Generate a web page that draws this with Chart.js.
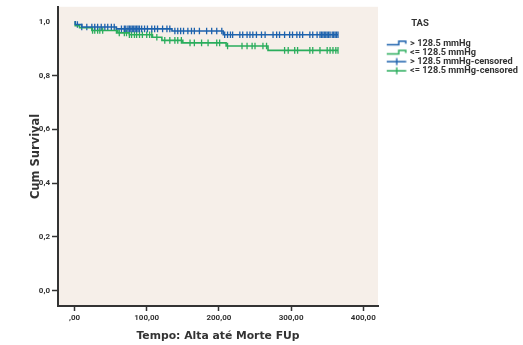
<!DOCTYPE html>
<html lang="pt">
<head>
<meta charset="UTF-8">
<title>Cum Survival - TAS</title>
<style>
  html, body { margin: 0; padding: 0; background: #fff; }
  #wrap { width: 523px; height: 345px; }
</style>
</head>
<body>
<div id="wrap"><canvas id="kmChart"></canvas></div>
<script src="https://cdn.jsdelivr.net/npm/chart.js"></script>
<script>
// series labels and colours
const seriesNames = ['> 128.5 mmHg', '<= 128.5 mmHg', '> 128.5 mmHg-censored', '<= 128.5 mmHg-censored'];
const blue = '#1d62ad';
const green = '#2aad5c';

// Kaplan-Meier steps (time in days, cumulative survival)
const highTimes = [0, 1, 10, 58, 135, 206, 365];
const highSurv = [1.0, 0.99, 0.981, 0.974, 0.966, 0.952, 0.952];
const lowTimes = [0, 1, 7, 24, 60, 76, 108, 121, 150, 210, 268, 365];
const lowSurv = [1.0, 0.986, 0.978, 0.968, 0.959, 0.952, 0.943, 0.931, 0.922, 0.910, 0.894, 0.894];

// censored observations
const highCensor = [4, 10, 17, 24, 28, 32, 37, 42, 46, 51, 55, 65, 69, 71, 74, 76, 78, 80, 82, 84, 86, 88, 90, 93,
  97, 101, 107, 111, 115, 122, 128, 132, 139, 143, 147, 151, 157, 162, 166, 173, 183, 190, 197, 204, 208, 212,
  216, 219, 229, 233, 239, 243, 247, 252, 259, 264, 275, 280, 284, 291, 298, 302, 308, 312, 316, 326, 330, 336,
  340, 342, 344, 346, 348, 350, 352, 354, 357, 359, 361, 363, 365];
const lowCensor = [25, 28, 32, 35, 39, 58, 62, 69, 72, 76, 79, 83, 86, 90, 94, 100, 104, 107, 114, 125, 132, 139,
  143, 148, 160, 166, 176, 185, 197, 201, 212, 232, 239, 246, 250, 261, 266, 291, 296, 305, 309, 326, 330, 340,
  350, 354, 358, 362, 365];

// axes
const xTicks = [0, 100, 200, 300, 400];
const xTickLabels = [',00', '100,00', '200,00', '300,00', '400,00'];
const yTicks = [0, 0.2, 0.4, 0.6, 0.8, 1.0];
const yTickLabels = ['0,0', '0,2', '0,4', '0,6', '0,8', '1,0'];

const tickFont = 'Roboto, sans-serif';
const titleFont = '"DejaVu Sans", sans-serif';
const ink = '#333333';

function survAt(times, surv, t) {
  let s = surv[0];
  for (let i = 0; i < times.length; i++) {
    if (times[i] <= t) s = surv[i];
  }
  return s;
}

function stepIcon(color) {
  const c = document.createElement('canvas');
  c.width = 40; c.height = 12;
  const g = c.getContext('2d');
  g.strokeStyle = color;
  g.lineWidth = 1.5;
  g.beginPath();
  g.moveTo(15, 7.5);
  g.lineTo(27, 7.5);
  g.lineTo(27, 4);
  g.lineTo(34, 4);
  g.lineTo(34, 6.5);
  g.stroke();
  return c;
}

function censorIcon(color) {
  const c = document.createElement('canvas');
  c.width = 40; c.height = 12;
  const g = c.getContext('2d');
  g.strokeStyle = color;
  g.lineWidth = 1.4;
  g.beginPath();
  g.moveTo(15, 6);
  g.lineTo(34.5, 6);
  g.moveTo(25, 2.5);
  g.lineTo(25, 9.5);
  g.stroke();
  return c;
}

const legendIcons = [stepIcon(blue), stepIcon(green), censorIcon(blue), censorIcon(green)];

const plotBg = {
  id: 'plotBg',
  beforeDraw(chart) {
    const { ctx, chartArea: a } = chart;
    ctx.save();
    ctx.fillStyle = '#f6efe9';
    ctx.fillRect(a.left, a.top, a.right - a.left, a.bottom - a.top);
    ctx.restore();
  }
};

// fixed legend box width so the plot ends where the reference does;
// the labels are longer than the box, so widen the clip while drawing
const legendWidth = {
  id: 'legendWidth',
  beforeInit(chart) {
    const lg = chart.legend;
    const fit = lg.fit;
    lg.fit = function () { fit.call(this); this.width = 84; };
    const draw = lg.draw;
    lg.draw = function () {
      const r = this.right;
      this.right = this.chart.width;
      draw.call(this);
      this.right = r;
    };
  }
};

const toXY = (times, surv) => times.map((t, i) => ({ x: t, y: surv[i] }));
const censorXY = (cens, times, surv) => cens.map(t => ({ x: t, y: survAt(times, surv, t) }));

new Chart(document.getElementById('kmChart'), {
  type: 'line',
  data: {
    datasets: [
      {
        label: seriesNames[0], data: toXY(highTimes, highSurv), stepped: true,
        borderColor: blue, borderWidth: 1.6, pointRadius: 0, fill: false
      },
      {
        label: seriesNames[1], data: toXY(lowTimes, lowSurv), stepped: true,
        borderColor: green, borderWidth: 1.6, pointRadius: 0, fill: false
      },
      {
        label: seriesNames[2], data: censorXY(highCensor, highTimes, highSurv), showLine: false,
        pointStyle: 'line', rotation: 90, pointRadius: 3.3, pointBorderWidth: 1.3,
        pointBorderColor: blue, borderColor: blue
      },
      {
        label: seriesNames[3], data: censorXY(lowCensor, lowTimes, lowSurv), showLine: false,
        pointStyle: 'line', rotation: 90, pointRadius: 3.3, pointBorderWidth: 1.3,
        pointBorderColor: green, borderColor: green
      }
    ]
  },
  options: {
    responsive: true,
    maintainAspectRatio: false,
    animation: false,
    events: [],
    layout: { padding: { top: 5, right: 61, bottom: 0, left: 0 } },
    scales: {
      x: {
        type: 'linear',
        min: -22.9, max: 420.4,
        afterBuildTicks: s => { s.ticks = xTicks.map(v => ({ value: v })); },
        afterFit: s => { s.height = 39; },
        border: { color: ink, width: 2 },
        grid: { drawOnChartArea: false, drawTicks: true, tickLength: 5, tickWidth: 1.5, tickColor: ink },
        ticks: {
          color: ink, padding: 2, maxRotation: 0, autoSkip: false,
          font: { family: tickFont, size: 8, weight: 'bold' },
          callback: (v, i) => xTickLabels[i]
        },
        title: {
          display: true, text: 'Tempo: Alta até Morte FUp', color: ink,
          font: { family: titleFont, size: 10.8, weight: 'bold' },
          padding: { top: 0, bottom: 1.9 }
        }
      },
      y: {
        type: 'linear',
        min: -0.0566, max: 1.056,
        afterBuildTicks: s => { s.ticks = yTicks.map(v => ({ value: v })); },
        afterFit: s => { s.width = 58; },
        border: { color: ink, width: 2 },
        grid: {
          drawOnChartArea: false, drawTicks: true, tickLength: 6, tickWidth: 1.5,
          tickColor: c => (c.tick && c.tick.value === 1 ? 'rgba(0,0,0,0)' : ink)
        },
        ticks: {
          color: ink, padding: 2, autoSkip: false,
          font: { family: tickFont, size: 8, weight: 'bold' },
          callback: (v, i) => yTickLabels[i]
        },
        title: {
          display: true, text: 'Cum Survival', color: ink,
          font: { family: titleFont, size: 11.5, weight: 'bold' },
          padding: { top: 29, bottom: 0 }
        }
      }
    },
    plugins: {
      tooltip: { enabled: false },
      legend: {
        position: 'right',
        align: 'start',
        title: {
          display: true, text: 'TAS', color: ink, position: 'center',
          font: { family: tickFont, size: 9.5, weight: 'bold' },
          padding: { top: 14, bottom: 8.2 }
        },
        labels: {
          usePointStyle: true,
          pointStyleWidth: 27.5,
          padding: 0,
          color: ink,
          font: { family: tickFont, size: 9.2, weight: 'bold' },
          generateLabels: chart => chart.data.datasets.map((ds, i) => ({
            text: ds.label, pointStyle: legendIcons[i], fillStyle: 'rgba(0,0,0,0)',
            strokeStyle: 'rgba(0,0,0,0)', lineWidth: 0, hidden: false, datasetIndex: i, fontColor: ink
          }))
        }
      }
    }
  },
  plugins: [plotBg, legendWidth]
});
</script>
</body>
</html>
